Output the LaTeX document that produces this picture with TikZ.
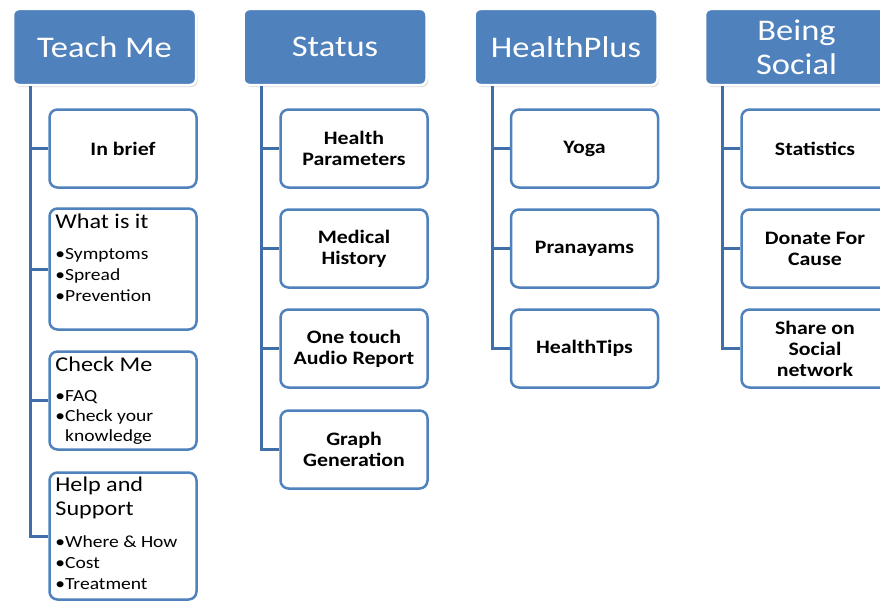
\documentclass[tikz,border=0pt]{standalone}
\usepackage{fontspec}
\setmainfont{Carlito}[FakeStretch=1.15]
\usetikzlibrary{shadows}

\definecolor{hdblue}{HTML}{4F81BD}
\definecolor{lineblue}{HTML}{3F6EA8}

\tikzset{
    headbox/.style={draw=white, line width=2.5pt, fill=hdblue, rounded corners=6pt,
        minimum width=183pt, minimum height=76pt, text=white, align=center,
        font=\fontsize{30}{34}\selectfont,
        drop shadow={shadow xshift=1.5pt, shadow yshift=-2pt, opacity=0.3}},
    itembox/.style={draw=hdblue, line width=2.5pt, fill=white, rounded corners=8pt,
        minimum width=147pt, minimum height=78pt, align=center,
        font=\bfseries\fontsize{19}{21}\selectfont},
    conn/.style={draw=lineblue, line width=3pt},
    boxtitle/.style={anchor=base west, inner sep=0pt, align=left,
        font=\fontsize{21}{24}\selectfont},
    bullets/.style={anchor=base west, inner sep=0pt, align=left,
        font=\fontsize{17}{21}\selectfont}
}

\begin{document}
\begin{tikzpicture}[x=1pt, y=-1pt]
    % Fix the page size
    \useasboundingbox (0,0) rectangle (880,602);

    % Draw the four headers
    \node[headbox] (tm) at (104.5,47) {Teach Me};
    \node[headbox] (st) at (335,47) {Status};
    \node[headbox] (hp) at (566,47) {HealthPlus};
    \node[headbox] (bs) at (796.5,47) {Being\\Social};

    % Teach Me column
    \node[itembox] (ib) at (123,148.5) {In brief};
    \node[itembox, minimum height=121pt] (wi) at (123,269) {};
    \node[itembox, minimum height=98pt] (cm) at (123,400.5) {};
    \node[itembox, minimum height=127pt] (hs) at (123,536) {};

    % (base of a text block = its last line)
    \node[boxtitle] (wi-t) at ([xshift=7pt, yshift=-21pt]wi.north west) {What is it};
    \node[bullets] (wi-l) at ([yshift=-73pt]wi-t.base west)
        {\textbullet Symptoms\\\textbullet Spread\\\textbullet Prevention};
    \node[boxtitle] (cm-t) at ([xshift=7pt, yshift=-21pt]cm.north west) {Check Me};
    \node[bullets] (cm-l) at ([yshift=-70pt]cm-t.base west)
        {\textbullet FAQ\\[-1pt]\textbullet Check your\\[-1pt]\phantom{\textbullet}knowledge};
    \node[boxtitle] (hs-t) at ([xshift=7pt, yshift=-44pt]hs.north west) {Help and\\Support};
    \node[bullets] (hs-l) at ([yshift=-74pt]hs-t.base west)
        {\textbullet Where \& How\\\textbullet Cost\\\textbullet Treatment};

    % Status column
    \node[itembox] (hp1) at (354,148.5) {Health\\Parameters};
    \node[itembox] (mh) at (354,248.5) {Medical\\History};
    \node[itembox] (ar) at (354,348.5) {One touch\\Audio Report};
    \node[itembox] (gg) at (354,449.5) {Graph\\Generation};

    % HealthPlus column
    \node[itembox] (yo) at (584.5,148.5) {Yoga};
    \node[itembox] (pr) at (584.5,248.5) {Pranayams};
    \node[itembox] (ht) at (584.5,348.5) {HealthTips};

    % Being Social column
    \node[itembox] (sa) at (815,148.5) {Statistics};
    \node[itembox] (dc) at (815,248.5) {Donate For\\Cause};
    \node[itembox] (sn) at (815,348.5) {Share on\\Social\\network};

    % Connectors from each header down to its boxes
    \coordinate (tm-top) at ([xshift=19pt]tm.south west);
    \coordinate (st-top) at ([xshift=19pt]st.south west);
    \coordinate (hp-top) at ([xshift=19pt]hp.south west);
    \coordinate (bs-top) at ([xshift=19pt]bs.south west);

    \foreach \c in {ib,wi,cm,hs} \draw[conn] (tm-top) |- (\c.west);
    \foreach \c in {hp1,mh,ar,gg} \draw[conn] (st-top) |- (\c.west);
    \foreach \c in {yo,pr,ht} \draw[conn] (hp-top) |- (\c.west);
    \foreach \c in {sa,dc,sn} \draw[conn] (bs-top) |- (\c.west);
\end{tikzpicture}
\end{document}
